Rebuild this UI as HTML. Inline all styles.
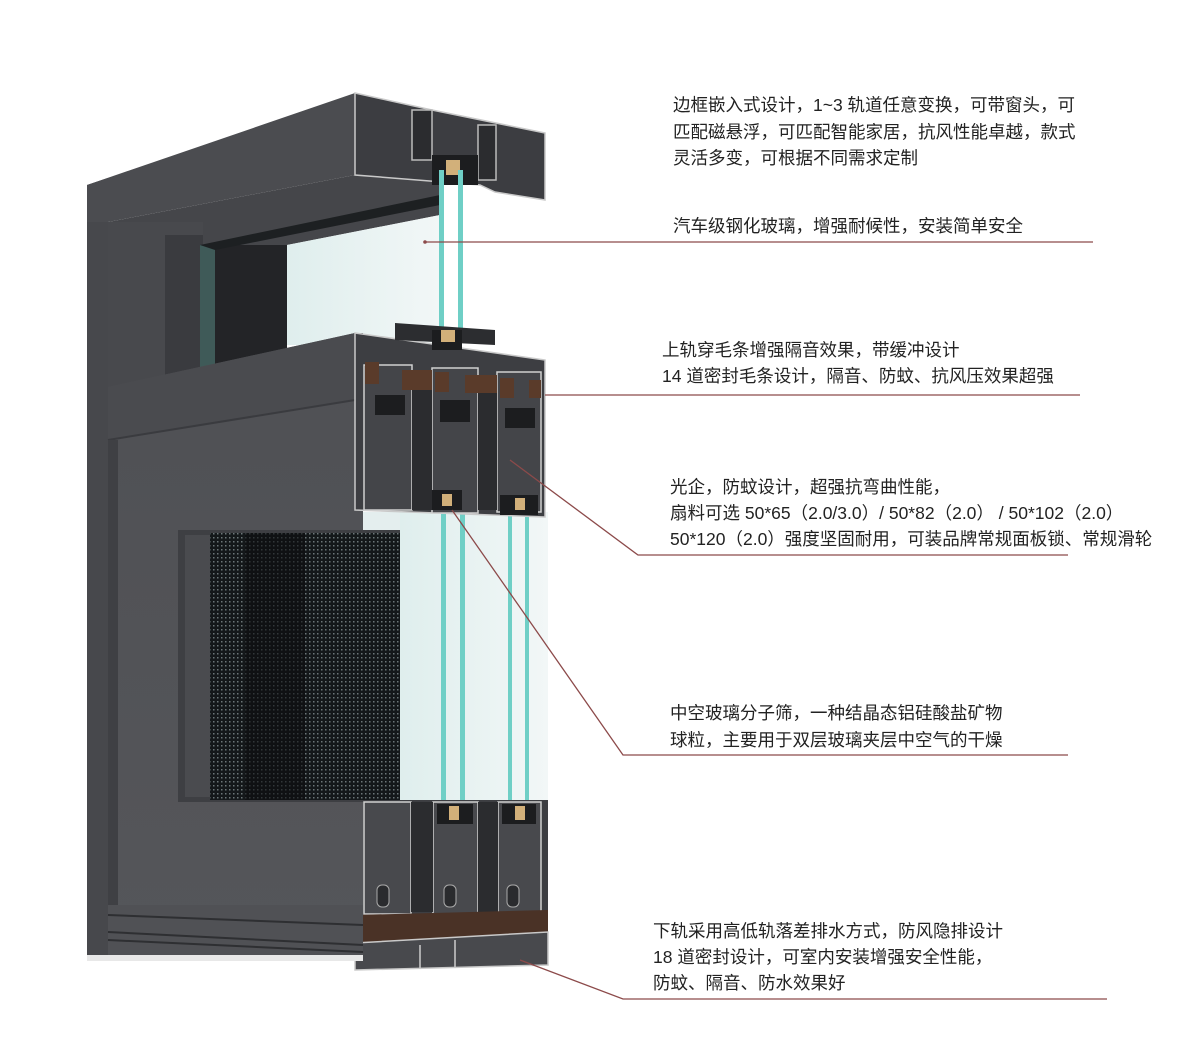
<!DOCTYPE html>
<html><head><meta charset="utf-8"><style>
html,body{margin:0;padding:0;background:#fff;}
svg{display:block}
text{font-family:"Liberation Sans","Noto Sans CJK SC",sans-serif;font-size:17.5px;fill:#222;}
</style></head><body>
<svg width="1200" height="1055" viewBox="0 0 1200 1055" xmlns="http://www.w3.org/2000/svg">
<defs>
<pattern id="mesh" width="4" height="4" patternUnits="userSpaceOnUse">
<rect width="4" height="4" fill="#14181a"/><rect x="1" y="1" width="1.5" height="1.5" fill="#6c7678"/>
</pattern>
<linearGradient id="glass" x1="0" y1="0" x2="1" y2="0">
<stop offset="0" stop-color="#dfeeed"/><stop offset="1" stop-color="#f2f7f7"/>
</linearGradient>
<linearGradient id="face" x1="0" y1="0" x2="0" y2="1">
<stop offset="0" stop-color="#4f5054"/><stop offset="1" stop-color="#55565a"/>
</linearGradient>
</defs>
<rect width="1200" height="1055" fill="#fff"/>
<polygon points="87,185 108,178 108,960 87,960" fill="#47484c"/>
<polygon points="87,185 355,93 355,175 108,222 87,222" fill="#4b4c50"/>
<polygon points="108,222 355,175 440,175 440,215 287,245 200,245 108,245" fill="#45464a"/>
<rect x="108" y="222" width="95" height="175" fill="#48494d"/>
<rect x="165" y="235" width="38" height="160" fill="#3a3b3f"/>
<rect x="200" y="245" width="15" height="150" fill="#3f5a58"/>
<rect x="215" y="245" width="72" height="150" fill="#232427"/>
<polygon points="287,245 440,215 440,345 287,345" fill="url(#glass)"/>
<polygon points="200,245 440,195 440,205 215,250" fill="#1d2022"/>
<polygon points="355,93 432,110 545,133 545,200 495,192 480,185 355,175" fill="#3c3d41" stroke="#c9c9c9" stroke-width="1.5"/>
<rect x="412" y="110" width="20" height="50" fill="#2b2c2f" stroke="#bbb" stroke-width="1.5"/>
<rect x="478" y="125" width="18" height="55" fill="#2b2c2f" stroke="#bbb" stroke-width="1.5"/>
<rect x="432" y="155" width="46" height="30" fill="#1c1d1f"/>
<rect x="446" y="160" width="14" height="15" fill="#d2b07a"/>
<rect x="439" y="170" width="5" height="165" fill="#6fcfc6"/>
<rect x="458" y="170" width="5" height="165" fill="#6fcfc6"/>
<polygon points="108,387 355,333 363,333 363,960 108,960" fill="url(#face)"/>
<polygon points="108,387 355,333 355,400 108,440" fill="#4a4b4f"/>
<line x1="108" y1="440" x2="355" y2="400" stroke="#3a3b3f" stroke-width="2"/>
<rect x="108" y="440" width="10" height="465" fill="#3f4044"/>
<rect x="178" y="530" width="370" height="272" fill="#3e3f43"/>
<rect x="185" y="535" width="25" height="262" fill="#4a4b4f"/>
<rect x="210" y="533" width="190" height="267" fill="url(#mesh)"/>
<rect x="245" y="533" width="60" height="267" fill="#0c0e0f" opacity="0.6"/>
<rect x="400" y="512" width="148" height="290" fill="url(#glass)"/>
<rect x="363" y="512" width="37" height="18" fill="#e4eeee"/>
<rect x="441" y="505" width="5" height="298" fill="#6fcfc6"/>
<rect x="460" y="505" width="5" height="298" fill="#6fcfc6"/>
<rect x="508" y="505" width="4" height="298" fill="#6fcfc6"/>
<rect x="525" y="505" width="4" height="298" fill="#6fcfc6"/>
<polygon points="355,333 545,360 545,517 355,510" fill="#3d3e42" stroke="#c9c9c9" stroke-width="1.5"/>
<polygon points="395,323 495,330 495,345 395,340" fill="#2c2d30"/>
<rect x="432" y="330" width="30" height="20" fill="#1c1d1f"/><rect x="441" y="330" width="14" height="12" fill="#d2b07a"/>
<rect x="364" y="365" width="48" height="145" fill="#444549" stroke="#d0d0d0" stroke-width="1.5"/>
<rect x="432" y="368" width="46" height="145" fill="#444549" stroke="#d0d0d0" stroke-width="1.5"/>
<rect x="497" y="372" width="44" height="140" fill="#444549" stroke="#d0d0d0" stroke-width="1.5"/>
<rect x="412" y="385" width="20" height="125" fill="#2b2c2f"/>
<rect x="478" y="390" width="19" height="120" fill="#2b2c2f"/>
<g fill="#5a3b2a"><rect x="365" y="362" width="14" height="22"/><rect x="402" y="370" width="30" height="20"/><rect x="435" y="372" width="14" height="20"/><rect x="465" y="375" width="32" height="18"/><rect x="500" y="378" width="14" height="20"/><rect x="529" y="380" width="12" height="18"/></g>
<g fill="#1c1d1f"><rect x="375" y="395" width="30" height="20"/><rect x="440" y="400" width="30" height="22"/><rect x="505" y="408" width="30" height="20"/></g>
<rect x="432" y="490" width="30" height="20" fill="#1c1d1f"/><rect x="442" y="494" width="10" height="12" fill="#d2b07a"/>
<rect x="500" y="495" width="38" height="20" fill="#1c1d1f"/><rect x="515" y="498" width="10" height="12" fill="#d2b07a"/>
<rect x="363" y="800" width="185" height="160" fill="#3d3e42"/>
<rect x="364" y="802" width="47" height="112" fill="#48494d" stroke="#d0d0d0" stroke-width="1.5"/>
<rect x="433" y="802" width="45" height="112" fill="#48494d" stroke="#d0d0d0" stroke-width="1.5"/>
<rect x="498" y="802" width="43" height="112" fill="#48494d" stroke="#d0d0d0" stroke-width="1.5"/>
<rect x="411" y="802" width="22" height="110" fill="#2b2c2f"/><rect x="478" y="802" width="20" height="110" fill="#2b2c2f"/>
<g fill="#1c1d1f"><rect x="437" y="804" width="36" height="20"/><rect x="502" y="804" width="34" height="20"/></g>
<g fill="#d2b07a"><rect x="449" y="806" width="10" height="14"/><rect x="515" y="806" width="10" height="14"/></g>
<g fill="#2a2b2e" stroke="#aaa"><rect x="377" y="885" width="12" height="22" rx="5"/><rect x="444" y="885" width="12" height="22" rx="5"/><rect x="507" y="885" width="12" height="22" rx="5"/></g>
<polygon points="355,915 548,910 548,940 355,955" fill="#4a3226"/>
<polygon points="355,943 548,932 548,965 355,970" fill="#48494d" stroke="#c9c9c9" stroke-width="1.5"/>
<line x1="420" y1="945" x2="420" y2="968" stroke="#ccc" stroke-width="1.5"/><line x1="455" y1="940" x2="455" y2="967" stroke="#ccc" stroke-width="1.5"/>
<rect x="108" y="905" width="255" height="52" fill="#505155"/>
<line x1="108" y1="915" x2="363" y2="925" stroke="#2e2f32" stroke-width="2"/>
<line x1="108" y1="932" x2="363" y2="945" stroke="#2e2f32" stroke-width="2"/>
<line x1="108" y1="940" x2="363" y2="952" stroke="#2e2f32" stroke-width="2"/>
<rect x="87" y="955" width="276" height="6" fill="#e8e8e8"/>
<g stroke="#8c4a4a" stroke-width="1.3" fill="none">
<line x1="425" y1="242" x2="1093" y2="242"/>
<line x1="545" y1="395" x2="1080" y2="395"/>
<polyline points="510,460 638,555 1068,555"/>
<polyline points="452,510 623,755 1068,755"/>
<polyline points="520,960 623,999 1107,999"/>
</g>
<circle cx="425" cy="242" r="1.8" fill="#8c4a4a"/>
<text x="673" y="111">边框嵌入式设计，1~3 轨道任意变换，可带窗头，可</text>
<text x="673" y="138">匹配磁悬浮，可匹配智能家居，抗风性能卓越，款式</text>
<text x="673" y="164">灵活多变，可根据不同需求定制</text>
<text x="673" y="232">汽车级钢化玻璃，增强耐候性，安装简单安全</text>
<text x="662" y="356">上轨穿毛条增强隔音效果，带缓冲设计</text>
<text x="662" y="382">14 道密封毛条设计，隔音、防蚊、抗风压效果超强</text>
<text x="670" y="493">光企，防蚊设计，超强抗弯曲性能，</text>
<text x="670" y="519">扇料可选 50*65（2.0/3.0）/ 50*82（2.0） / 50*102（2.0）</text>
<text x="670" y="545">50*120（2.0）强度坚固耐用，可装品牌常规面板锁、常规滑轮</text>
<text x="670" y="719">中空玻璃分子筛，一种结晶态铝硅酸盐矿物</text>
<text x="670" y="746">球粒，主要用于双层玻璃夹层中空气的干燥</text>
<text x="653" y="937">下轨采用高低轨落差排水方式，防风隐排设计</text>
<text x="653" y="963">18 道密封设计，可室内安装增强安全性能，</text>
<text x="653" y="989">防蚊、隔音、防水效果好</text>
</svg>
</body></html>
